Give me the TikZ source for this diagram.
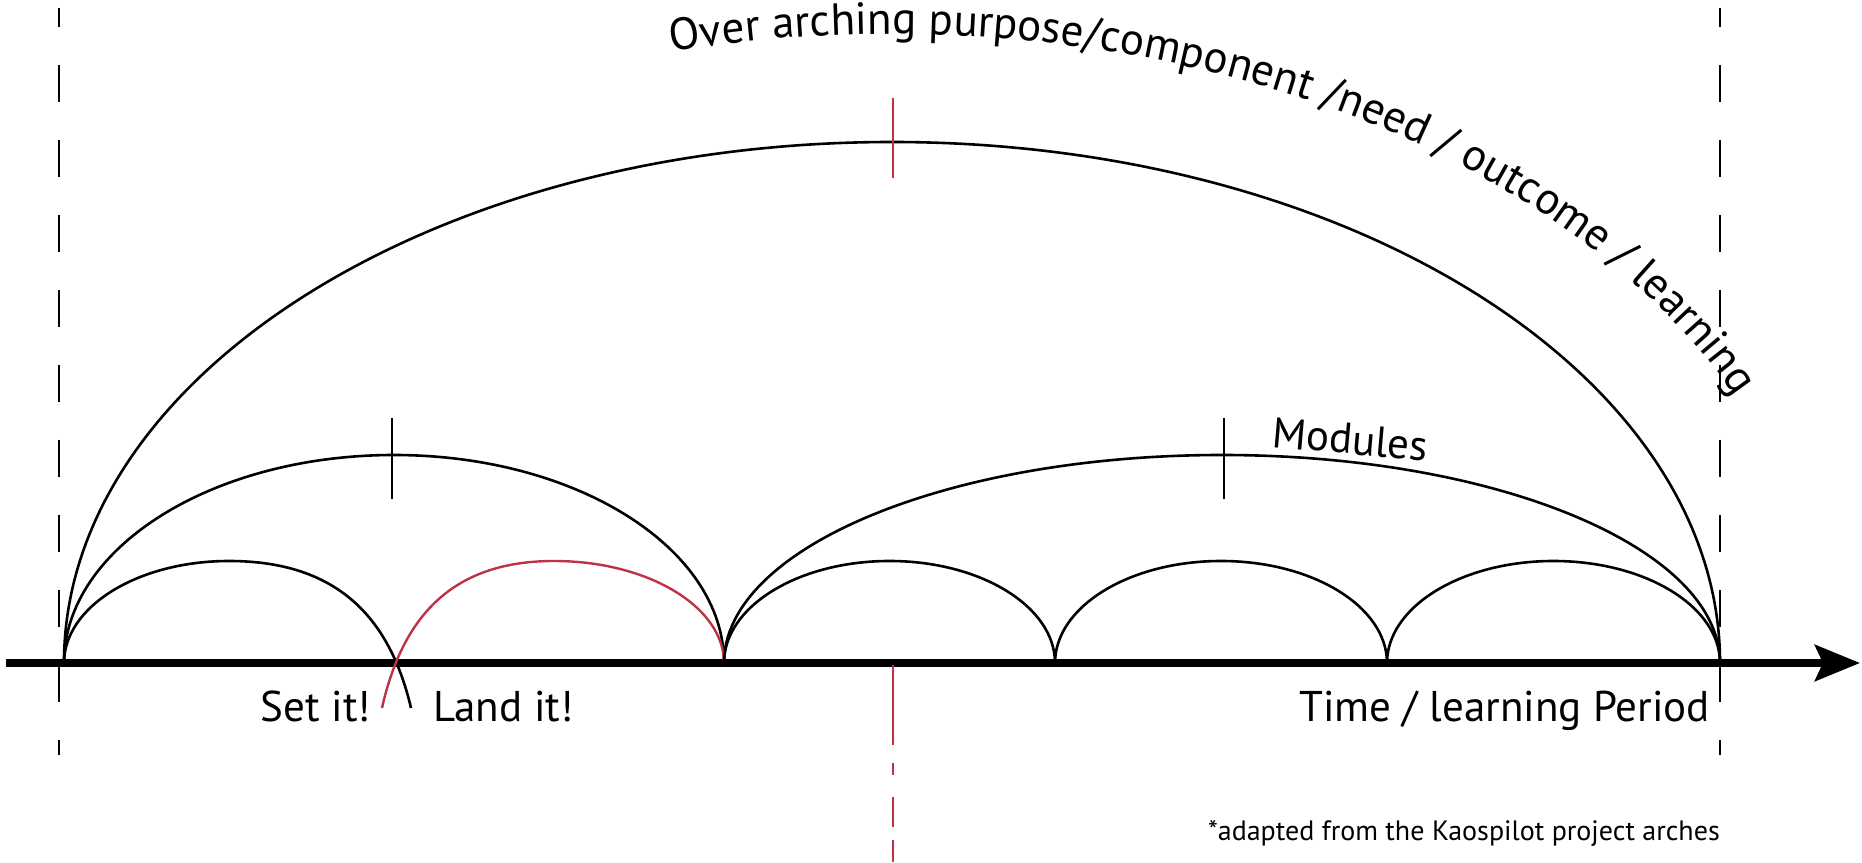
\documentclass[tikz,border=0pt]{standalone}
\usepackage{fontspec}
\setmainfont{PT Sans}
\usetikzlibrary{arrows.meta,decorations.text,calc}
\definecolor{archred}{RGB}{190,50,70}
\newcommand\curvefont{\fontsize{45}{54}\selectfont}
\begin{document}
\begin{tikzpicture}[x=1pt,y=1pt,
  arch/.style={line width=2.6pt, black},
  redarch/.style={line width=2.4pt, archred},
  guide/.style={line width=2.4pt, black, dash pattern=on 37pt off 38pt, dash phase=18pt},
  tickmark/.style={line width=2.2pt},
  lab/.style={font=\fontsize{43}{50}\selectfont, inner sep=0pt},
  note/.style={font=\fontsize{28}{34}\selectfont, inner sep=0pt}]
\useasboundingbox (0,0) rectangle (1862,862);
\fill[white] (0,0) rectangle (1862,862);

% key points on the time axis
\coordinate (A0) at (64,199);
\coordinate (J1) at (724,199);
\coordinate (J2) at (1055,199);
\coordinate (J3) at (1387,199);
\coordinate (A1) at (1720,199);
\coordinate (Ax0) at (6,199);
\coordinate (Ax1) at (1860,199);
\coordinate (Bk) at (411,154);
\coordinate (Rd) at (382,154);

% vertical guides
\draw[guide] (59,854) -- (59,107);
\draw[guide] (1720,854) -- (1720,107);

% time axis
\draw[line width=8pt, -{Stealth[length=45pt, width=36pt, inset=8pt]}] (Ax0) -- (Ax1);

% big arch
\draw[arch] (A0) arc[start angle=180, end angle=0, x radius=828, y radius=521];
% module arches
\draw[arch] (A0) arc[start angle=180, end angle=0, x radius=330, y radius=208];
\draw[arch] (J1) arc[start angle=180, end angle=0, x radius=498, y radius=208];
% small arches
\draw[arch] (A0) arc[start angle=180, end angle=90, x radius=165, y radius=102]
   .. controls (330,301) and (388,252) .. (Bk);
\draw[redarch] (Rd) .. controls (404,252) and (458,301) .. (554,301)
   arc[start angle=90, end angle=0, x radius=170, y radius=102];
\draw[arch] (J1) arc[start angle=180, end angle=0, x radius=165.5, y radius=102];
\draw[arch] (J2) arc[start angle=180, end angle=0, x radius=166, y radius=102];
\draw[arch] (J3) arc[start angle=180, end angle=0, x radius=166.5, y radius=102];

% ticks
\draw[tickmark] (392,444) -- (392,363);
\draw[tickmark] (1224,444) -- (1224,363);
\draw[tickmark, archred] (893,764) -- (893,684);
\draw[tickmark, archred] (893,197) -- (893,117)
   (893,99) -- (893,87) (893,65) -- (893,35) (893,22) -- (893,0);

% curved title
\path[decorate, decoration={text along path, text align=left,
   text={|\curvefont|Over arching purpose/component /need / outcome / learning}}]
   (671.5,810.2) arc[start angle=103.7, end angle=5, x radius=931, y radius=629];

% labels
\node[lab, anchor=base west, rotate=-5] (mod) at (1271,415) {Modules};
\node[lab, anchor=base east] (set) at (371,140) {Set it!};
\node[lab, anchor=base west] (land) at (433,140) {Land it!};
\node[lab, anchor=base east] (time) at (1710,141) {Time / learning Period};
\node[note, anchor=base east] (src) at (1720,22) {*adapted from the Kaospilot project arches};
\end{tikzpicture}
\end{document}
